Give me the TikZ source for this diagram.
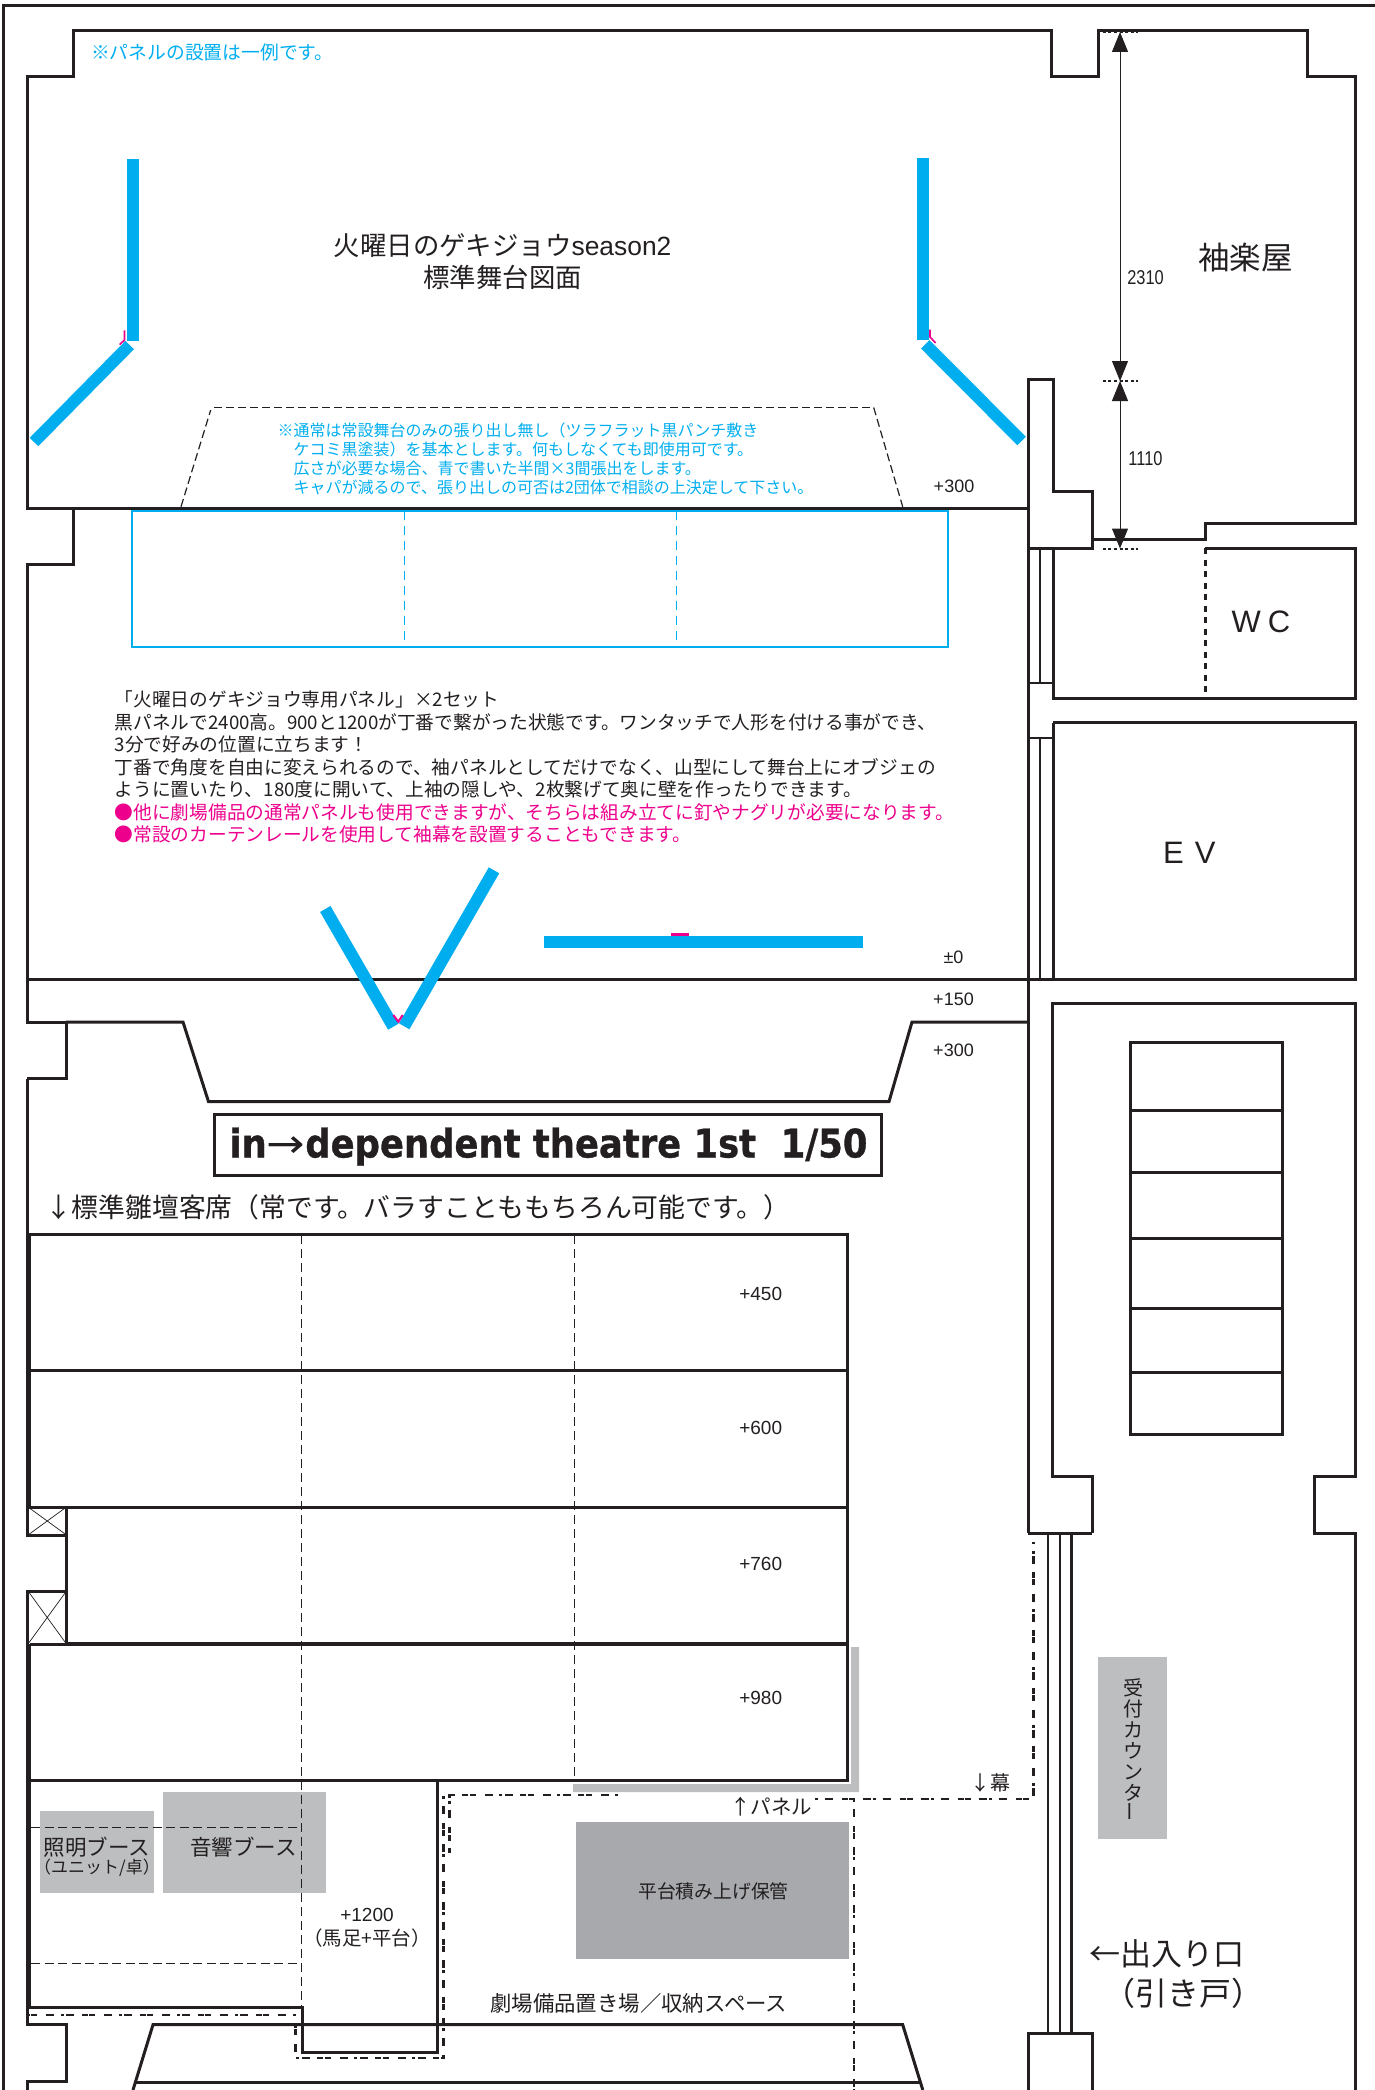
\documentclass[tikz,border=0pt]{standalone}
\usepackage{fontspec}
\usepackage{graphicx}
\usetikzlibrary{arrows.meta}
\setmainfont{Liberation Sans}
\newfontfamily\jp{Noto Sans CJK JP}
\newfontfamily\dvb{DejaVu Sans}[BoldFont={DejaVu Sans Bold},BoldFeatures={FakeBold=0.9}]
\newcommand{\fsz}[1]{\fontsize{#1}{#1}\selectfont}
\definecolor{ink}{HTML}{231F20}
\definecolor{cyanp}{HTML}{00AEEF}
\definecolor{magp}{HTML}{EC008C}
\definecolor{lgray}{HTML}{BCBEC0}
\definecolor{dgray}{HTML}{A7A9AC}
\tikzset{
  wall/.style={draw=ink,line width=3pt,line join=miter},
  thinw/.style={draw=ink,line width=2.3pt},
  seatdash/.style={draw=ink,line width=1pt,dash pattern=on 9pt off 5pt},
  boothdash/.style={draw=ink,line width=1pt,dash pattern=on 9pt off 4.5pt},
  trapdash/.style={draw=ink,line width=1.2pt,dash pattern=on 8pt off 4pt},
  ddot/.style={draw=ink,line width=2.5pt,dash pattern=on 3pt off 6.5pt on 8pt off 9pt on 6pt off 1.5pt on 6pt off 7.5pt on 8pt off 2.5pt},
  panelb/.style={draw=cyanp,line width=12pt},
  hinge/.style={draw=magp,line width=1.6pt},
  txt/.style={inner sep=0pt,outer sep=0pt,text=ink,align=center},
  dimline/.style={draw=ink,line width=1pt,{Triangle[length=20pt,width=16pt,fill=ink]}-{Triangle[length=20pt,width=16pt,fill=ink]}},
  dimdot/.style={draw=ink,line width=2pt,dash pattern=on 3pt off 2.6pt},
}
\begin{document}
\begin{tikzpicture}[x=1pt,y=-1pt]
\useasboundingbox (0,0) rectangle (1375,2090);
% grey fills
\fill[lgray] (40,1811) rectangle (154,1893);
\fill[lgray] (163,1792) rectangle (326,1893);
\fill[dgray] (576,1822) rectangle (849,1959);
\fill[lgray] (851,1647) -- (859,1647) -- (859,1792) -- (573,1792) -- (573,1784) -- (851,1784) -- cycle;
\fill[lgray] (1098,1657) rectangle (1167,1838.6);
% frame
\draw[draw=ink,line width=3pt] (1375,6) -- (3,6) -- (3,2090);
% stage and backstage wall
\draw[wall] (1028,508) -- (27,508) -- (27,77) -- (73.5,77) -- (73.5,30.5) -- (1051,30.5) -- (1051,77) -- (1098,77) -- (1098,30.5) -- (1307.5,30.5) -- (1307.5,77) -- (1355,77) -- (1355,523) -- (1205,523) -- (1205,539) -- (1092,539);
\draw[wall] (1028,1533) -- (1028,379.5) -- (1053,379.5) -- (1053,491) -- (1092,491) -- (1092,548) -- (1028,548);
% WC
\draw[wall] (1053,548) -- (1053,698.5) -- (1355,698.5) -- (1355,548) -- (1205,548);
\draw[draw=ink,line width=3pt,dash pattern=on 6pt off 5.5pt] (1205,548) -- (1205,698.5);
% EV
\draw[wall] (1053,722.5) -- (1355,722.5) -- (1355,979.3) -- (27,979.3);
\draw[wall] (1053,722.5) -- (1053,979.3);
\draw[thinw] (1040,548) -- (1040,683) (1040,738) -- (1040,979.3);
\draw[thinw] (1028,683) -- (1053,683) (1028,738) -- (1053,738);
% lobby
\draw[wall] (1092,1533) -- (1092,1476.5) -- (1052.5,1476.5) -- (1052.5,1003) -- (1355,1003) -- (1355,1476.5) -- (1314.7,1476.5) -- (1314.7,1533) -- (1355,1533) -- (1355,2090);
\draw[wall] (1028,1533) -- (1092,1533);
\draw[wall] (1028,2090) -- (1028,2033.7) -- (1092,2033.7) -- (1092,2090);
\draw[thinw] (1047.8,1533) -- (1047.8,2033.7) (1059.8,1533) -- (1059.8,2033.7) (1071.4,1533) -- (1071.4,2033.7);
% stairs
\draw[wall] (1130.7,1042) rectangle (1282.7,1434.3);
\draw[wall] (1130.7,1110) -- (1282.7,1110) (1130.7,1172) -- (1282.7,1172) (1130.7,1238.3) -- (1282.7,1238.3) (1130.7,1308.3) -- (1282.7,1308.3) (1130.7,1372) -- (1282.7,1372);
% left wall below stage
\draw[wall] (73.5,508) -- (73.5,564) -- (27,564) -- (27,1022) -- (66,1022) -- (66,1078.6) -- (27,1078.6);
\draw[wall] (66,1022) -- (183,1022) -- (208.5,1101.6) -- (889,1101.6) -- (912,1022) -- (1028,1022);
\draw[wall] (27,1078.6) -- (27,1535) -- (66.5,1535) -- (66.5,1591) -- (27,1591) -- (27,2024.7) -- (66.5,2024.7) -- (66.5,2081) -- (27,2081) -- (27,2090);
% seating
\draw[wall] (847,1507) -- (29.5,1507) -- (29.5,1234.5) -- (847,1234.5) -- (847,1780) -- (29.5,1780) -- (29.5,2007) -- (302,2007) -- (302,2052) -- (437.5,2052) -- (437.5,1780);
\draw[wall] (29.5,1370.7) -- (847,1370.7);
\draw[draw=ink,line width=3.6pt] (66.5,1644) -- (847,1644);
\draw[wall] (66.5,1507) -- (66.5,1644);
\draw[wall] (29.5,1644) -- (66.5,1644) (29.5,1644) -- (29.5,1780);
\draw[draw=ink,line width=.7pt] (28,1507) -- (66.5,1535) (66.5,1507) -- (28,1535) (28,1591) -- (66.5,1644) (66.5,1591) -- (28,1644);
\draw[seatdash] (301.5,1235) -- (301.5,2007);
\draw[seatdash] (574.5,1235) -- (574.5,1780);
\draw[boothdash] (31,1827.5) -- (300,1827.5);
\draw[boothdash] (31,1963.5) -- (300,1963.5);
% back trapezoid
\draw[wall] (133,2090) -- (153,2024.7) -- (902.7,2024.7) -- (922.8,2090);
\draw[wall] (134,2082) -- (920,2082);
% dash-dotted curtain
\draw[ddot] (618,1795) -- (449.5,1795) -- (449.5,1853);
\draw[ddot] (443.3,1796) -- (443.3,2058) -- (295.5,2058) -- (295.5,2023.5);
\draw[ddot] (295.5,2015) -- (29,2015);
\draw[ddot] (815,1799) -- (1033.5,1799) -- (1033.5,1542);
\draw[ddot] (854,1799) -- (854,2090);
% trapezoid of the apron
\draw[trapdash] (181,506.7) -- (210.7,410);
\draw[trapdash] (214,407.5) -- (873.7,407.5);
\draw[trapdash] (873.7,407.5) -- (902.7,506.7);
% apron
\draw[draw=cyanp,line width=2.4pt] (131.7,510.7) rectangle (948,647);
\draw[draw=cyanp,line width=1pt,dash pattern=on 9pt off 6pt] (404.5,511) -- (404.5,647) (676.5,511) -- (676.5,647);
% panels
\draw[panelb] (132.9,159) -- (132.9,341);
\draw[panelb] (34,442) -- (129.7,345);
\draw[panelb] (923,158) -- (923,340);
\draw[panelb] (925.3,344.3) -- (1021.6,441);
\draw[hinge] (124.5,330.4) -- (124.5,340) -- (119.6,344.6);
\draw[hinge] (930,329.5) -- (930,337) -- (935.7,343);
\draw[panelb] (325.3,909) -- (393.3,1026.7);
\draw[panelb] (494,870.3) -- (404.2,1026.3);
\draw[draw=magp,line width=2pt] (393.3,1015) -- (398.3,1021.7) -- (402.7,1015);
\draw[draw=cyanp,line width=11.7pt] (544,941.8) -- (863,941.8);
\fill[magp] (671,933) rectangle (688.8,936);
% title box
\draw[wall] (214,1114) rectangle (881,1175);
% dimension
\coordinate (dimtop) at (1120,32);
\coordinate (dimmid) at (1120,381);
\coordinate (dimbot) at (1120,548.5);
\draw[dimline] (dimtop) -- (dimmid);
\draw[dimline] (dimmid) -- (dimbot);
\draw[dimdot] (1102.7,32) -- (1137.5,32);
\draw[dimdot] (1102.7,381) -- (1137.5,381);
\draw[dimdot] (1102.7,548.6) -- (1137.5,548.6);
% texts
\node[txt,anchor=west,text=cyanp] (n1) at (91,52) {\jp\fsz{18.8}※パネルの設置は一例です。};
\node[txt] (t1) at (502.7,245.5) {\fsz{26.4}{\jp 火曜日のゲキジョウ}season2};
\node[txt] (t2) at (502.7,277) {\jp\fsz{26.4}標準舞台図面};
\node[txt,anchor=west,text=cyanp] (b1) at (277.7,430) {\jp\fsz{16}※通常は常設舞台のみの張り出し無し（ツラフラット黒パンチ敷き};
\node[txt,anchor=west,text=cyanp] (b2) at (293.7,449) {\jp\fsz{16}ケコミ黒塗装）を基本とします。何もしなくても即使用可です。};
\node[txt,anchor=west,text=cyanp] (b3) at (293.7,468) {\jp\fsz{16}広さが必要な場合、青で書いた半間×3間張出をします。};
\node[txt,anchor=west,text=cyanp] (b4) at (293.7,487.5) {\jp\fsz{16}キャパが減るので、張り出しの可否は2団体で相談の上決定して下さい。};
\node[txt] (lv300) at (954,486.6) {\fsz{18}+300};
\node[txt] (d1) at (1145.5,277.7) {\scalebox{.82}[1]{\fsz{20}2310}};
\node[txt] (d2) at (1145.5,459) {\scalebox{.82}[1]{\fsz{20}1110}};
\node[txt] (gakuya) at (1245.5,258) {\jp\fsz{31.5}袖楽屋};
\node[txt] (wc) at (1261,622) {\fsz{31}W\hspace{7pt}C};
\node[txt] (ev) at (1189.3,853) {\fsz{31}E\hspace{11pt}V};
\node[txt,anchor=west] (l1) at (114.8,699.8) {\jp\fsz{18.7}「火曜日のゲキジョウ専用パネル」×2セット};
\node[txt,anchor=west] (l2) at (114.8,722) {\jp\fsz{18.7}黒パネルで2400高。900と1200が丁番で繋がった状態です。ワンタッチで人形を付ける事ができ、};
\node[txt,anchor=west] (l3) at (114.8,744.5) {\jp\fsz{18.7}3分で好みの位置に立ちます！};
\node[txt,anchor=west] (l4) at (114.8,767) {\jp\fsz{18.7}丁番で角度を自由に変えられるので、袖パネルとしてだけでなく、山型にして舞台上にオブジェの};
\node[txt,anchor=west] (l5) at (114.8,789.7) {\jp\fsz{18.7}ように置いたり、180度に開いて、上袖の隠しや、2枚繋げて奥に壁を作ったりできます。};
\node[txt,anchor=west,text=magp] (l6) at (114.8,812.3) {\jp\fsz{18.7}●他に劇場備品の通常パネルも使用できますが、そちらは組み立てに釘やナグリが必要になります。};
\node[txt,anchor=west,text=magp] (l7) at (114.8,834.8) {\jp\fsz{18.7}●常設のカーテンレールを使用して袖幕を設置することもできます。};
\node[txt] (l0) at (953.5,957) {\fsz{18}±0};
\node[txt] (l150) at (953.5,999.4) {\fsz{18}+150};
\node[txt] (l300) at (953.5,1050) {\fsz{18}+300};
\node[txt] (title) at (548.5,1146.6) {\resizebox{638pt}{30pt}{\dvb\bfseries\fsz{30}in{\mdseries\scalebox{1.3}[1]{→}}dependent theatre 1st\ \ 1/50}};
\node[txt,anchor=west] (seat) at (45,1207) {\jp\fsz{26.8}↓標準雛壇客席（常です。バラすことももちろん可能です。）};
\node[txt] (s450) at (760.7,1293.7) {\fsz{19}+450};
\node[txt] (s600) at (760.7,1427.7) {\fsz{19}+600};
\node[txt] (s760) at (760.7,1563.5) {\fsz{19}+760};
\node[txt] (s980) at (760.7,1697.8) {\fsz{19}+980};
\node[txt] (b5) at (97,1847.5) {\jp\fsz{21.5}照明ブース};
\node[txt] (b6) at (97,1868) {\jp\fsz{17}（ユニット/卓）};
\node[txt] (b7) at (243.3,1847) {\jp\fsz{21.5}音響ブース};
\node[txt] (h1) at (367,1915) {\fsz{19}+1200};
\node[txt] (h2) at (367,1938) {\jp\fsz{19.5}（馬足+平台）};
\node[txt] (hd) at (713.5,1891) {\jp\fsz{18.8}平台積み上げ保管};
\node[txt] (st) at (638.8,2003) {\jp\fsz{21.4}劇場備品置き場／収納スペース};
\node[txt] (mk) at (990,1782.6) {\jp\fsz{20}↓幕};
\node[txt] (pn) at (771,1807) {\jp\fsz{20.5}↑パネル};
\node[txt,font=\jp\fontsize{20}{21}\selectfont] (rc) at (1133,1750) {受\\付\\カ\\ウ\\ン\\タ\\\rotatebox{90}{ー}};
\node[txt,anchor=east] (ex1) at (1244,1954) {\jp\fsz{31}←出入り口};
\node[txt,anchor=east] (ex2) at (1263,1993) {\jp\fsz{32}（引き戸）};
\end{tikzpicture}
\end{document}
